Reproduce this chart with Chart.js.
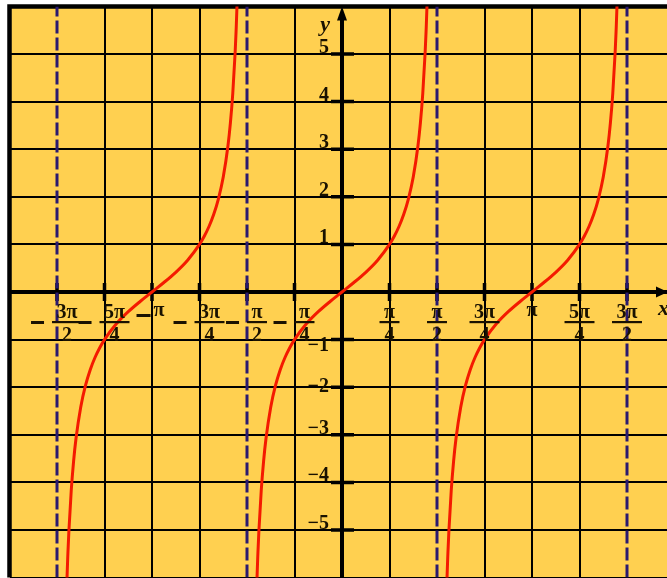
<!DOCTYPE html>
<html>
<head>
<meta charset="utf-8">
<script src="https://cdn.jsdelivr.net/npm/chart.js@4.4.1/dist/chart.umd.min.js"></script>
<style>
  html, body { margin: 0; padding: 0; overflow: hidden; background: #fff; }
  #wrap { width: 680px; height: 585px; }
</style>
</head>
<body>
<div id="wrap"><canvas id="c" width="680" height="585"></canvas></div>
<script>
// x values are in units of π/4
const xTickUnits = [-6, -5, -4, -3, -2, -1, 1, 2, 3, 4, 5, 6];
const xTickNumerators = ['3π', '5π', 'π', '3π', 'π', 'π', 'π', 'π', '3π', 'π', '5π', '3π'];
const xTickDenominators = ['2', '4', '', '4', '2', '4', '4', '2', '4', '', '4', '2'];
const yTickValues = [-5, -4, -3, -2, -1, 1, 2, 3, 4, 5];
const yTickLabels = ['−5', '−4', '−3', '−2', '−1', '1', '2', '3', '4', '5'];
const asymptoteUnits = [-6, -2, 2, 6];
const branchCenters = [-4, 0, 4];
const branchOffsets = [-1.85, -1.8, -1.77, -1.75, -1.7, -1.65, -1.6, -1.5, -1.4, -1.3, -1.2, -1.1, -1.0, -0.75, -0.5, -0.25, 0,
                       0.25, 0.5, 0.75, 1.0, 1.1, 1.2, 1.3, 1.4, 1.5, 1.6, 1.65, 1.7, 1.75, 1.77, 1.8, 1.85];
const branchValues = [-8.449, -6.314, -5.476, -5.027, -4.165, -3.546, -3.078, -2.414, -1.963, -1.632, -1.376, -1.171, -1.0, -0.668, -0.414, -0.199, 0,
                      0.199, 0.414, 0.668, 1.0, 1.171, 1.376, 1.632, 1.963, 2.414, 3.078, 3.546, 4.165, 5.027, 5.476, 6.314, 8.449];

const BG = '#FFD050';
const INK = '#1a1200';
const RED = '#f41a00';
const ASY = '#2a1a70';
const FONT = 'bold 20px "Liberation Serif", "Times New Roman", serif';

const datasets = [];
branchCenters.forEach(c => {
  datasets.push({
    data: branchOffsets.map((o, i) => ({ x: c + o, y: branchValues[i] })),
    showLine: true, borderColor: RED, borderWidth: 3, pointRadius: 0,
    cubicInterpolationMode: 'monotone', fill: false
  });
});
asymptoteUnits.forEach(a => {
  datasets.push({
    data: [{ x: a, y: -6 }, { x: a, y: 6 }],
    showLine: true, borderColor: ASY, borderWidth: 3, pointRadius: 0,
    borderDash: [13, 4], tension: 0, fill: false
  });
});

const deco = {
  id: 'deco',
  beforeDraw(chart) {
    const { ctx, chartArea: a } = chart;
    ctx.save();
    ctx.fillStyle = '#fff';
    ctx.fillRect(0, 0, chart.width, chart.height);
    ctx.fillStyle = BG;
    ctx.fillRect(a.left, a.top, a.right - a.left, a.bottom - a.top);
    ctx.restore();
  },
  beforeDatasetsDraw(chart) {
    const { ctx, chartArea: a, scales: { x, y } } = chart;
    const ax = x.getPixelForValue(0), ay = y.getPixelForValue(0);
    ctx.save();
    ctx.strokeStyle = '#000';
    ctx.lineCap = 'butt';
    ctx.lineWidth = 4.5;
    ctx.beginPath();
    ctx.moveTo(a.left, a.bottom); ctx.lineTo(a.left, a.top); ctx.lineTo(a.right, a.top);
    ctx.stroke();
    ctx.lineWidth = 4;
    ctx.beginPath();
    ctx.moveTo(a.left, ay); ctx.lineTo(a.right, ay);
    ctx.moveTo(ax, a.bottom); ctx.lineTo(ax, a.top + 8);
    ctx.stroke();
    ctx.lineWidth = 3.5;
    ctx.beginPath();
    xTickUnits.forEach(u => { const px = x.getPixelForValue(u); ctx.moveTo(px, ay - 9); ctx.lineTo(px, ay + 9); });
    yTickValues.forEach(v => { const py = y.getPixelForValue(v); ctx.moveTo(ax - 11, py); ctx.lineTo(ax + 12, py); });
    ctx.stroke();
    ctx.fillStyle = '#000';
    ctx.beginPath();
    ctx.moveTo(ax, a.top); ctx.lineTo(ax - 5, a.top + 14); ctx.lineTo(ax + 5, a.top + 14); ctx.closePath();
    ctx.fill();
    ctx.beginPath();
    ctx.moveTo(668, ay); ctx.lineTo(656, ay - 5.5); ctx.lineTo(656, ay + 5.5); ctx.closePath();
    ctx.fill();
    ctx.restore();
  },
  afterDatasetsDraw(chart) {
    const { ctx, scales: { x, y } } = chart;
    const ax = x.getPixelForValue(0), ay = y.getPixelForValue(0);
    ctx.save();
    ctx.fillStyle = INK;
    ctx.font = FONT;
    ctx.textBaseline = 'alphabetic';
    xTickUnits.forEach((u, i) => {
      const cx = x.getPixelForValue(u);
      const num = xTickNumerators[i], den = xTickDenominators[i], neg = u < 0;
      ctx.textAlign = 'center';
      if (den) {
        const w = Math.max(ctx.measureText(num).width, ctx.measureText(den).width) + 9;
        const fc = neg ? cx + 10 : cx;
        const barY = ay + 30;
        ctx.fillRect(fc - w / 2, barY - 1, w, 2.2);
        ctx.fillText(num, fc, barY - 4);
        ctx.fillText(den, fc, barY + 19);
        if (neg) ctx.fillRect(fc - w / 2 - 21, barY - 1, 13, 3);
      } else {
        const nw = ctx.measureText(num).width;
        const tx = neg ? cx + 7 : cx;
        ctx.fillText(num, tx, ay + 24);
        if (neg) ctx.fillRect(tx - nw / 2 - 17, ay + 22, 14, 3);
      }
    });
    ctx.textAlign = 'right';
    yTickValues.forEach((v, i) => {
      const py = y.getPixelForValue(v);
      const by = v === -1 ? py + 11 : (v === -2 ? py + 5 : py - 1);
      ctx.fillText(yTickLabels[i], ax - 13, by);
    });
    ctx.font = 'bold italic 22px "Liberation Serif", "Times New Roman", serif';
    ctx.textAlign = 'right';
    ctx.fillText('y', ax - 12, 31);
    ctx.textAlign = 'left';
    ctx.fillText('x', 658, ay + 23);
    ctx.restore();
  }
};

function gridColor(skip) {
  return (c) => (c.tick && skip.includes(c.tick.value)) ? 'rgba(0,0,0,0)' : '#000';
}

new Chart(document.getElementById('c'), {
  type: 'scatter',
  data: { datasets },
  options: {
    responsive: false,
    animation: false,
    events: [],
    layout: { padding: { left: 9.5, right: 5.5, top: 6.4, bottom: 7.4 } },
    plugins: { legend: { display: false }, tooltip: { enabled: false } },
    scales: {
      x: {
        type: 'linear', min: -7, max: 7,
        afterBuildTicks: (s) => { s.ticks = []; for (let k = -7; k <= 7; k++) s.ticks.push({ value: k }); },
        ticks: { display: false },
        border: { display: false },
        grid: { drawTicks: false, lineWidth: 2, color: gridColor([-7, 0, ...asymptoteUnits]) }
      },
      y: {
        type: 'linear', min: -6, max: 6,
        afterBuildTicks: (s) => { s.ticks = []; for (let k = -6; k <= 6; k++) s.ticks.push({ value: k }); },
        ticks: { display: false },
        border: { display: false },
        grid: { drawTicks: false, lineWidth: 2, color: gridColor([0, 6]) }
      }
    }
  },
  plugins: [deco]
});
</script>
</body>
</html>
